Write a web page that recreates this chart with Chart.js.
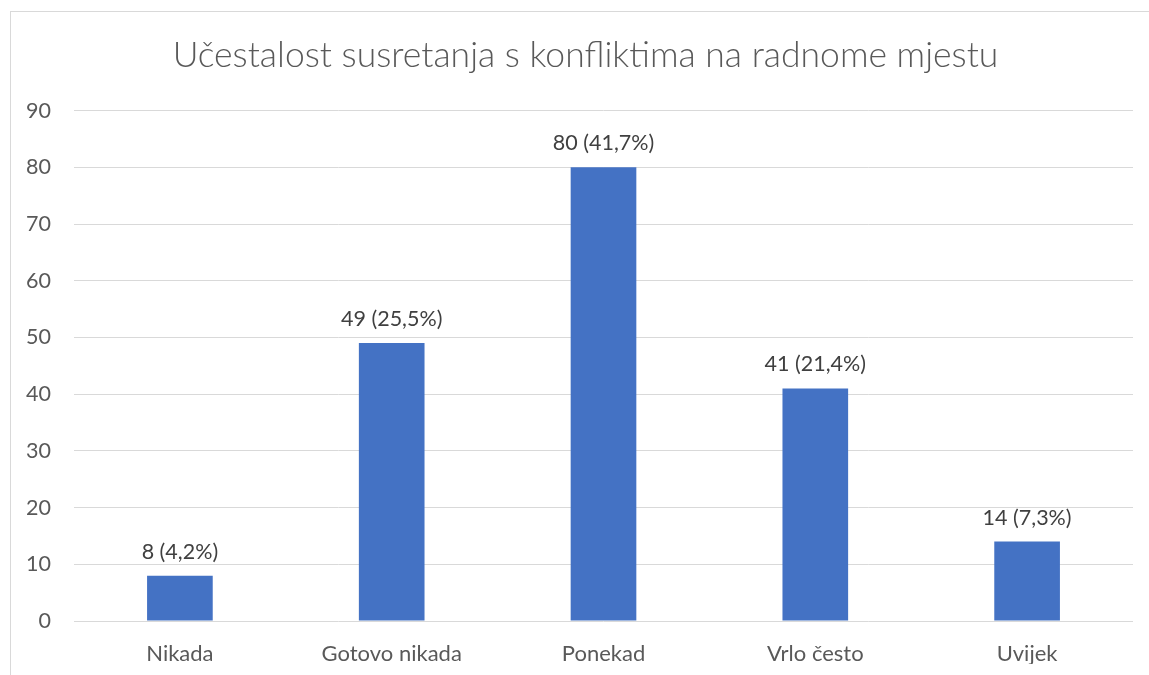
<!DOCTYPE html>
<html>
<head>
<meta charset="utf-8">
<script src="https://cdn.jsdelivr.net/npm/chart.js@4"></script>
<style>
  html, body { margin: 0; padding: 0; background: #fff; overflow: hidden; }
  #frame { position: absolute; left: 10px; top: 11px; width: 1200px; height: 700px;
           border-left: 1px solid #d9d9d9; border-top: 1px solid #d9d9d9; }
  #c { position: absolute; left: 0; top: 0; }
</style>
</head>
<body>
<div id="frame"></div>
<canvas id="c" width="1149" height="675"></canvas>
<script>
// ── データ ────────────────────────────────────────────
const categories = ['Nikada', 'Gotovo nikada', 'Ponekad', 'Vrlo često', 'Uvijek'];
const counts = [8, 49, 80, 41, 14];
const percents = ['4,2', '25,5', '41,7', '21,4', '7,3'];
const yTicks = [0, 10, 20, 30, 40, 50, 60, 70, 80, 90];

const FONT = 'Lato, "Open Sans", sans-serif';

// バー上のラベル
const valueLabels = {
  id: 'valueLabels',
  afterLayout(chart) {
    // タイトルを枠の中央に寄せる
    if (chart.titleBlock) chart.titleBlock.left = 38;
  },
  afterDatasetsDraw(chart) {
    const ctx = chart.ctx;
    const meta = chart.getDatasetMeta(0);
    ctx.save();
    ctx.font = '21.5px ' + FONT;
    ctx.fillStyle = '#404040';
    ctx.textAlign = 'center';
    ctx.textBaseline = 'middle';
    meta.data.forEach((bar, i) => {
      ctx.fillText(counts[i] + ' (' + percents[i] + '%)', bar.x, bar.y - 24);
    });
    ctx.restore();
  }
};

new Chart(document.getElementById('c'), {
  type: 'bar',
  data: {
    labels: categories,
    datasets: [{
      data: counts,
      backgroundColor: '#4472C4',
      borderWidth: 0,
      categoryPercentage: 1,
      barPercentage: 0.31,
    }]
  },
  options: {
    responsive: false,
    animation: false,
    layout: { padding: { left: 0, right: 16, top: 0, bottom: 11 } },
    plugins: {
      legend: { display: false },
      tooltip: { enabled: false },
      title: {
        display: true,
        text: 'Učestalost susretanja s konfliktima na radnome mjestu',
        color: '#595959',
        font: { family: FONT, size: 35.5, weight: 300 },
        padding: { top: 34, bottom: 34 }
      }
    },
    scales: {
      x: {
        afterFit: s => { s.height = 43; },
        grid: { display: false, drawTicks: false },
        border: { display: false },
        ticks: { color: '#595959', font: { family: FONT, size: 22 }, padding: 20 }
      },
      y: {
        min: 0,
        max: 90,
        afterBuildTicks: s => { s.ticks = yTicks.map(v => ({ value: v })); },
        afterFit: s => { s.width = 74; },
        grid: { color: '#d9d9d9', lineWidth: 1, drawTicks: false },
        border: { display: false },
        ticks: { color: '#595959', font: { family: FONT, size: 21.5 }, padding: 23 }
      }
    }
  },
  plugins: [valueLabels]
});
</script>
</body>
</html>
